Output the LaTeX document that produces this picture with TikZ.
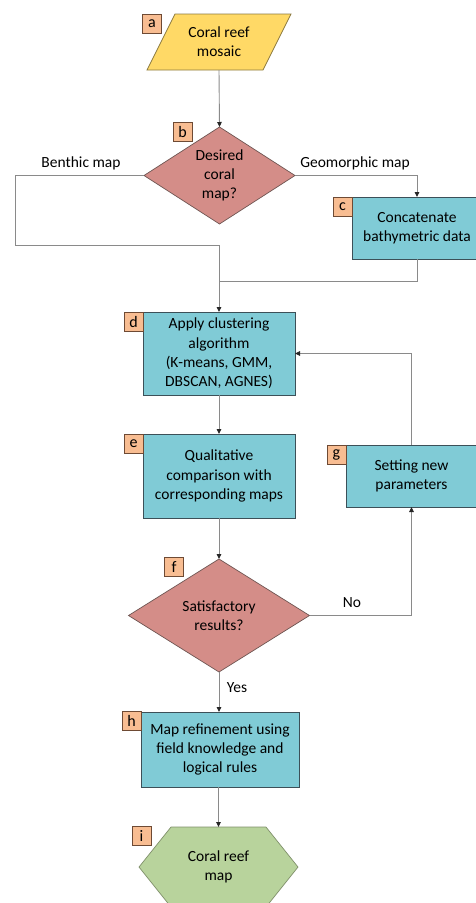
\documentclass[tikz,border=0pt]{standalone}
\usepackage{fontspec}
\setmainfont{Carlito}
\usetikzlibrary{shapes.geometric,arrows.meta,backgrounds}
\definecolor{cyel}{HTML}{FFD966}
\definecolor{cyelb}{HTML}{8C7A40}
\definecolor{crose}{HTML}{D48D88}
\definecolor{croseb}{HTML}{6E5552}
\definecolor{cteal}{HTML}{80CBD6}
\definecolor{ctealb}{HTML}{3C5058}
\definecolor{cgreen}{HTML}{B8D39C}
\definecolor{cgreenb}{HTML}{7F8F6A}
\definecolor{corg}{HTML}{F8BD92}
\definecolor{corgb}{HTML}{6E4A34}
\definecolor{cline}{HTML}{8A8A8A}
\begin{document}
\begin{tikzpicture}[x=1pt,y=-1pt,
  every node/.style={font=\fontsize{15.5}{19.3}\selectfont, text=black, align=center, inner sep=0pt},
  procbox/.style={draw=ctealb, fill=cteal, line width=0.9pt, rectangle, outer sep=0pt},
  decision/.style={draw=croseb, fill=crose, line width=0.7pt, diamond, outer sep=0pt},
  tag/.style={draw=corgb, fill=corg, line width=0.8pt, minimum width=19pt, minimum height=19pt, font=\fontsize{16}{17}\selectfont},
  conn/.style={draw=cline, line width=0.9pt},
  arr/.style={conn, -{Triangle[length=5pt,width=4.5pt,color=black!85]}},
  lbl/.style={font=\fontsize{15.5}{19}\selectfont}
]
\useasboundingbox (0,0) rectangle (476,903);
\clip (0,0) rectangle (476,903);

% a: parallelogram (text node + drawn outline)
\node[minimum width=144pt, minimum height=56pt, outer sep=0pt] (a) at (219,42) {Coral reef\\mosaic};
\begin{scope}[on background layer]
\draw[fill=cyel, draw=cyelb, line width=0.7pt]
  ([xshift=28pt]a.north west) -- (a.north east) -- ([xshift=-28pt]a.south east) -- (a.south west) -- cycle;
\end{scope}

% b: decision
\node[decision, minimum width=151pt, minimum height=97pt] (b) at (219.5,175.5) {};
\node at (b) {Desired\\coral\\map?};

% c
\node[procbox, minimum width=130pt, minimum height=62pt] (c) at (417,228) {Concatenate\\bathymetric data};

% d
\node[procbox, minimum width=152pt, minimum height=83pt] (d) at (219,353.5) {Apply clustering\\algorithm\\(K-means, GMM,\\DBSCAN, AGNES)};

% e
\node[procbox, minimum width=152pt, minimum height=84pt] (e) at (219,476) {Qualitative\\comparison with\\corresponding maps};

% g
\node[procbox, minimum width=131pt, minimum height=62pt] (g) at (411.5,476) {Setting new\\parameters};

% f
\node[decision, minimum width=181pt, minimum height=113pt] (f) at (219,615.5) {};
\node at (f) {Satisfactory\\results?};

% h
\node[procbox, minimum width=158pt, minimum height=75pt] (h) at (220,749.5) {Map refinement using\\field knowledge and\\logical rules};

% i: hexagon
\node[minimum width=159pt, minimum height=80pt, outer sep=0pt] (i) at (218.5,867) {Coral reef\\map};
\begin{scope}[on background layer]
\draw[fill=cgreen, draw=cgreenb, line width=0.7pt]
  ([xshift=32pt]i.north west) -- ([xshift=-32pt]i.north east) -- (i.east) --
  ([xshift=-32pt]i.south east) -- ([xshift=32pt]i.south west) -- (i.west) -- cycle;
\end{scope}

% tags
\node[tag] (ta) at (152,23.5) {a};
\node[tag] (tb) at (182.5,131.5) {b};
\node[tag] (tc) at (342.5,207) {c};
\node[tag] (td) at (133.5,321.5) {d};
\node[tag] (te) at (133.5,444) {e};
\node[tag] (tg) at (336.5,454.5) {g};
\node[tag] (tf) at (174,567) {f};
\node[tag] (th) at (131.5,720.5) {h};
\node[tag] (ti) at (141.5,836) {i};

% junctions
\coordinate (lc) at (15,175.5);
\coordinate (j1) at (219,245);
\coordinate (j2) at (219,281);

% connectors
\draw[arr] (a.south) -- (b.north);
\draw[conn] (b.west) -- (lc) |- (j1);
\draw[arr] (b.east) -| (c.north);
\draw[conn] (c.south) |- (j2);
\draw[arr] (j1) -- (d.north);
\draw[arr] (d.south) -- (e.north);
\draw[arr] (e.south) -- (f.north);
\draw[arr] (f.east) -| (g.south);
\draw[arr] (g.north) |- (d.east);
\draw[arr] (f.south) -- (f.south |- h.north);
\draw[arr] (h.south -| i.north) -- (i.north);

% connector labels
\node[lbl] (lben) at (81,163) {Benthic map};
\node[lbl] (lgeo) at (355,163) {Geomorphic map};
\node[lbl] (lno) at (352,603) {No};
\node[lbl] (lyes) at (237,688) {Yes};
\end{tikzpicture}
\end{document}
